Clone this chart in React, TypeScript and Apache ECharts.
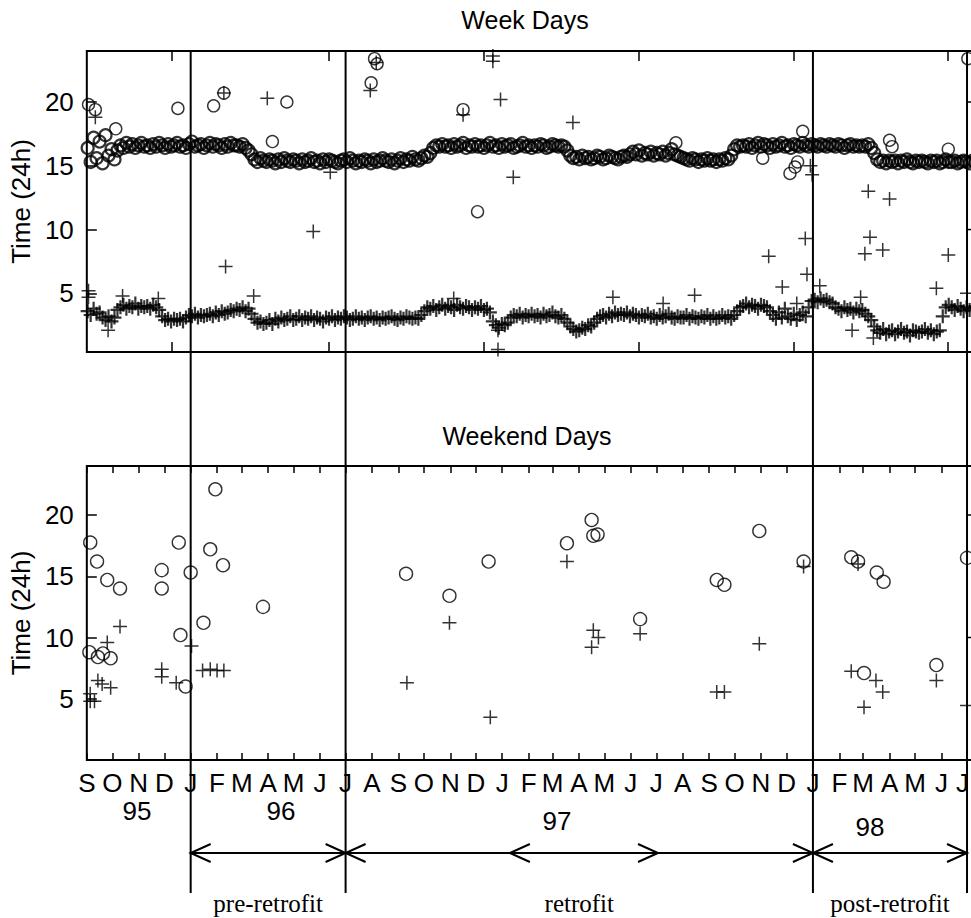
import React, { useEffect, useRef } from "react";
import * as echarts from "echarts";

// ---------- data ----------
// Week days: readings every 3.5 days starting at BAND_START (10 per row)
const BAND_START = "1995-09-02";
const BAND_STEP_DAYS = 3.5;

const weekdayCircleBand = [
  16.4, 15.3, 17.2, 15.6, 16.9, 15.2, 17.4, 15.8, 16.3, 15.5,
  16.2, 16.6, 16.4, 16.8, 16.5, 16.7, 16.4, 16.6, 16.8, 16.5,
  16.6, 16.4, 16.7, 16.5, 16.8, 16.6, 16.4, 16.7, 16.5, 16.6,
  16.8, 16.5, 16.6, 16.4, 16.7, 16.9, 16.5, 16.6, 16.7, 16.4,
  16.6, 16.8, 16.5, 16.7, 16.6, 16.4, 16.7, 16.5, 16.8, 16.6,
  16.6, 16.5, 16.7, 16.4, 16.2, 15.9, 15.5, 15.3, 15.6, 15.4,
  15.3, 15.5, 15.4, 15.2, 15.5, 15.3, 15.6, 15.4, 15.3, 15.5,
  15.4, 15.2, 15.5, 15.3, 15.4, 15.6, 15.3, 15.4, 15.2, 15.5,
  15.3, 15.5, 15.4, 15.3, 15.2, 15.4, 15.5, 15.3, 15.6, 15.4,
  15.2, 15.4, 15.3, 15.5, 15.4, 15.2, 15.5, 15.3, 15.4, 15.6,
  15.4, 15.3, 15.5, 15.2, 15.4, 15.6, 15.3, 15.5, 15.4, 15.7,
  15.5, 15.4, 15.6, 15.8, 15.7, 16.0, 16.4, 16.6, 16.5, 16.7,
  16.5, 16.6, 16.4, 16.7, 16.5, 16.6, 16.8, 16.4, 16.6, 16.5,
  16.7, 16.5, 16.6, 16.4, 16.6, 16.8, 16.5, 16.6, 16.4, 16.7,
  16.5, 16.6, 16.7, 16.4, 16.5, 16.6, 16.8, 16.5, 16.6, 16.4,
  16.6, 16.5, 16.7, 16.6, 16.4, 16.5, 16.7, 16.6, 16.5, 16.6,
  16.5, 16.2, 15.8, 15.6, 15.7, 15.5, 15.8, 15.6, 15.7, 15.5,
  15.6, 15.8, 15.7, 15.5, 15.6, 15.8, 15.7, 15.6, 15.5, 15.7,
  15.8, 15.7, 15.9, 16.1, 15.9, 16.2, 15.8, 16.0, 15.9, 16.1,
  15.8, 16.0, 15.9, 16.1, 15.8, 16.0, 16.3, 15.9, 15.8, 15.7,
  15.6, 15.5, 15.4, 15.6, 15.5, 15.3, 15.5, 15.4, 15.6, 15.4,
  15.5, 15.3, 15.5, 15.4, 15.6, 15.5, 15.8, 16.3, 16.6, 16.5,
  16.6, 16.5, 16.7, 16.4, 16.6, 16.8, 16.5, 16.7, 16.6, 16.4,
  16.7, 16.5, 16.6, 16.8, 16.5, 16.6, 16.4, 16.7, 16.6, 16.5,
  16.8, 16.6, 16.5, 16.7, 16.6, 16.5, 16.7, 16.6, 16.5, 16.7,
  16.6, 16.5, 16.7, 16.6, 16.4, 16.6, 16.7, 16.5, 16.6, 16.5,
  16.6, 16.5, 16.7, 16.4, 16.0, 15.5, 15.3, 15.4, 15.2, 15.4,
  15.3, 15.4, 15.2, 15.4, 15.3, 15.5, 15.3, 15.2, 15.4, 15.3,
  15.4, 15.3, 15.2, 15.4, 15.3, 15.4, 15.2, 15.3, 15.5, 15.3,
  15.3, 15.4, 15.2, 15.3, 15.4, 15.3, 15.2, 15.4, 15.3, 15.4,
];

const weekdayPlusBand = [
  3.6, 3.3, 3.8, 3.4, 3.5, 3.1, 2.9, 3.2, 2.8, 3.1,
  3.7, 3.9, 4.1, 3.8, 4.0, 3.9, 4.2, 3.8, 4.0, 3.9,
  4.0, 3.8, 4.1, 3.9, 3.7, 3.2, 2.9, 3.0, 2.8, 3.0,
  2.9, 3.0, 2.8, 3.1, 3.3, 3.2, 3.4, 3.1, 3.3, 3.2,
  3.3, 3.4, 3.2, 3.5, 3.3, 3.6, 3.4, 3.5, 3.7, 3.6,
  3.8, 3.7, 3.9, 3.6, 3.8, 3.4, 3.0, 2.7, 2.8, 2.6,
  2.7, 2.9, 2.6, 3.0, 2.8, 3.1, 2.9, 3.0, 3.2, 2.9,
  3.0, 3.2, 2.9, 3.1, 3.0, 3.2, 2.9, 3.1, 3.0, 2.8,
  3.1, 3.0, 3.2, 2.9, 3.1, 3.0, 3.2, 3.1, 2.9, 3.0,
  3.2, 3.0, 3.1, 2.9, 3.1, 3.2, 3.0, 3.1, 2.9, 3.1,
  3.0, 3.1, 3.2, 3.0, 2.9, 3.1, 3.0, 3.2, 3.1, 3.0,
  3.1, 3.0, 3.3, 3.6, 3.9, 3.8, 4.0, 3.7, 3.9, 4.1,
  3.8, 4.0, 3.9, 3.7, 4.1, 3.9, 3.8, 4.0, 3.9, 3.7,
  3.9, 3.8, 4.0, 3.7, 3.8, 3.5, 2.8, 2.5, 2.3, 2.6,
  2.5, 2.7, 3.1, 3.3, 3.2, 3.4, 3.1, 3.3, 3.2, 3.4,
  3.2, 3.3, 3.1, 3.4, 3.2, 3.3, 3.5, 3.2, 3.1, 3.3,
  3.0, 2.7, 2.4, 2.2, 2.0, 2.1, 2.3, 2.2, 2.5, 2.4,
  2.7, 3.0, 3.2, 3.3, 3.1, 3.4, 3.2, 3.5, 3.3, 3.4,
  3.3, 3.5, 3.2, 3.4, 3.3, 3.1, 3.3, 3.2, 3.4, 3.1,
  3.2, 3.0, 3.3, 3.1, 3.2, 3.4, 3.1, 3.0, 3.2, 3.1,
  3.1, 3.3, 3.0, 3.2, 3.1, 3.0, 3.2, 3.1, 3.3, 3.0,
  3.2, 3.0, 3.1, 3.3, 3.1, 3.2, 3.0, 3.3, 3.6, 3.9,
  4.0, 4.2, 3.9, 4.1, 4.0, 3.8, 4.1, 4.0, 3.9, 3.6,
  3.3, 3.0, 3.5, 3.1, 3.8, 3.2, 3.0, 3.4, 2.9, 3.3,
  3.5, 3.2, 3.9, 4.4, 4.5, 4.3, 4.6, 4.4, 4.5, 4.3,
  4.2, 3.9, 3.8, 3.6, 3.9, 3.7, 3.8, 3.5, 3.8, 3.6,
  3.7, 3.4, 3.2, 2.9, 2.4, 2.1, 1.9, 2.2, 1.8, 2.0,
  2.1, 1.8, 2.0, 2.2, 1.9, 2.0, 1.7, 2.1, 2.0, 1.9,
  2.0, 2.2, 1.9, 2.1, 1.8, 2.0, 2.1, 3.2, 3.9, 4.1,
  3.9, 3.7, 4.0, 3.8, 3.6, 3.9, 3.7, 3.8, 4.0, 3.8,
];

const weekdayCircleOutliers: [string, number][] = [
  ["1995-09-03", 19.8], ["1995-09-11", 19.4], ["1995-10-05", 17.9], ["1995-12-17", 19.5],
  ["1996-01-28", 19.7], ["1996-02-09", 20.7], ["1996-04-23", 20.0], ["1996-04-06", 16.9],
  ["1996-07-31", 21.5], ["1996-08-04", 23.4], ["1996-08-07", 23.0], ["1996-11-16", 19.4],
  ["1996-12-03", 11.4], ["1997-07-24", 16.8], ["1997-12-05", 14.4], ["1997-12-11", 14.9],
  ["1997-12-14", 15.3], ["1997-12-20", 17.7], ["1997-11-03", 15.6], ["1998-04-01", 17.0],
  ["1998-04-04", 16.5], ["1998-06-09", 16.3], ["1998-07-02", 23.4],
];

const weekdayPlusOutliers: [string, number][] = [
  ["1995-09-11", 18.8], ["1995-09-03", 5.2], ["1995-09-03", 4.7], ["1995-09-26", 2.1],
  ["1995-10-13", 4.8], ["1995-11-24", 4.6], ["1996-02-09", 20.7], ["1996-02-11", 7.1],
  ["1996-03-15", 4.8], ["1996-03-31", 20.3], ["1996-05-24", 9.85], ["1996-06-13", 14.5],
  ["1996-07-30", 20.9], ["1996-08-06", 23.1], ["1996-11-16", 19.0], ["1996-11-05", 4.6],
  ["1996-12-21", 23.6], ["1996-12-21", 23.2], ["1996-12-30", 20.2], ["1997-01-14", 14.1],
  ["1996-12-27", 2.1], ["1996-12-27", 0.6], ["1997-03-25", 18.4], ["1997-05-11", 4.7],
  ["1997-08-15", 4.85], ["1997-07-09", 4.2], ["1997-11-26", 5.5], ["1997-11-10", 7.9],
  ["1997-12-13", 4.2], ["1997-12-23", 9.3], ["1997-12-25", 6.5], ["1997-12-29", 15.0],
  ["1997-12-31", 14.3], ["1998-01-09", 5.6], ["1998-02-26", 4.7], ["1998-02-16", 2.1],
  ["1998-03-07", 13.0], ["1998-04-01", 12.4], ["1998-03-09", 9.4], ["1998-03-03", 8.1],
  ["1998-03-24", 8.4], ["1998-06-09", 8.0], ["1998-05-26", 5.4], ["1998-07-01", 5.0],
  ["1998-03-13", 1.5],
];

const weekendCircles: [string, number][] = [
  ["1995-09-05", 17.75], ["1995-09-13", 16.2], ["1995-09-25", 14.7], ["1995-10-10", 14.0],
  ["1995-09-04", 8.8], ["1995-09-14", 8.4], ["1995-09-20", 8.7], ["1995-09-29", 8.3],
  ["1995-11-28", 15.5], ["1995-11-28", 14.0], ["1995-12-18", 17.75], ["1995-12-20", 10.2],
  ["1996-01-01", 15.3], ["1995-12-26", 6.0], ["1996-01-16", 11.2], ["1996-01-24", 17.2],
  ["1996-01-30", 22.1], ["1996-02-08", 15.9], ["1996-03-26", 12.5], ["1996-09-10", 15.2],
  ["1996-10-31", 13.4], ["1996-12-16", 16.2], ["1997-03-18", 17.7], ["1997-04-16", 19.6],
  ["1997-04-18", 18.3], ["1997-04-23", 18.4], ["1997-06-12", 11.5], ["1997-09-10", 14.7],
  ["1997-09-19", 14.3], ["1997-10-30", 18.7], ["1997-12-21", 16.2], ["1998-02-15", 16.55],
  ["1998-02-23", 16.2], ["1998-03-17", 15.3], ["1998-03-25", 14.55], ["1998-03-02", 7.1],
  ["1998-05-26", 7.75], ["1998-07-01", 16.5],
];

const weekendPlus: [string, number][] = [
  ["1995-10-10", 10.9], ["1995-09-25", 9.6], ["1995-09-14", 6.5], ["1995-09-19", 6.2],
  ["1995-09-29", 5.9], ["1995-09-05", 5.4], ["1995-09-05", 4.8], ["1995-09-10", 4.8],
  ["1995-11-28", 7.4], ["1995-11-28", 6.8], ["1995-12-15", 6.3], ["1996-01-02", 9.3],
  ["1996-01-15", 7.3], ["1996-01-24", 7.4], ["1996-02-01", 7.3], ["1996-02-09", 7.3],
  ["1996-09-11", 6.3], ["1996-10-31", 11.2], ["1996-12-18", 3.5], ["1997-03-18", 16.2],
  ["1997-04-16", 9.2], ["1997-04-18", 10.6], ["1997-04-24", 10.0], ["1997-06-12", 10.3],
  ["1997-09-10", 5.55], ["1997-09-19", 5.55], ["1997-10-30", 9.5], ["1997-12-21", 15.8],
  ["1998-02-23", 16.0], ["1998-02-15", 7.25], ["1998-03-16", 6.5], ["1998-03-24", 5.55],
  ["1998-03-02", 4.3], ["1998-05-26", 6.5], ["1998-07-01", 4.45],
];

// axis / annotation texts
const MONTH_LETTERS = ["J", "F", "M", "A", "M", "J", "J", "A", "S", "O", "N", "D"];
const X_MIN = "1995-09-01";
const X_MAX = "1998-07-28";
const FIRST_MONTH = [1995, 8];
const MONTH_COUNT = 35; // Sep 95 .. Jul 98
const WEEKDAY_TICKS = ["1995-12-10", "1996-06-11", "1996-12-10", "1997-06-10", "1997-12-09", "1998-06-08"];
const Y_TICKS = [5, 10, 15, 20];
const YEAR_LABELS = ["95", "96", "97", "98"];
const PERIOD_BOUNDS = ["1996-01-01", "1996-07-01", "1998-01-01", "1998-07-01"];
const PERIOD_LABELS = ["pre-retrofit", "retrofit", "post-retrofit"];
const MID_ARROWS = ["1997-01-10", "1997-07-03"];

// ---------- helpers ----------
const DAY = 86400000;
const ts = (s: string) => Date.parse(s + "T00:00:00Z");
const SANS = "'Liberation Sans', Arial, Helvetica, sans-serif";
const SERIF = "'Liberation Serif', 'Times New Roman', serif";
const PLUS = "path://M6,0L6,12M0,6L12,6";

export default function App() {
  const ref = useRef<HTMLDivElement>(null);

  useEffect(() => {
    if (!ref.current) return;
    const chart = echarts.init(ref.current, undefined, { renderer: "svg" });

    const bandStart = ts(BAND_START);
    const band = (arr: number[]) => arr.map((v, i) => [bandStart + i * BAND_STEP_DAYS * DAY, v]);
    const pts = (arr: [string, number][]) => arr.map(([d, v]) => [ts(d), v]);

    const monthTicks: number[] = [];
    for (let k = 0; k < MONTH_COUNT; k++) monthTicks.push(Date.UTC(FIRST_MONTH[0], FIRST_MONTH[1] + k, 1));
    const lastMonthTick = monthTicks[monthTicks.length - 1];
    const weekdayTicks = WEEKDAY_TICKS.map(ts);

    const tickStyle = { color: "#000", width: 1.5 };
    const xBase = {
      type: "value",
      min: ts(X_MIN),
      max: ts(X_MAX),
      axisLine: { show: false },
      splitLine: { show: false },
    };

    const yBase = (grid: number, min: number) => ({
      type: "value",
      gridIndex: grid,
      min,
      max: 24,
      axisLine: { show: false },
      splitLine: { show: false },
      axisTick: { show: true, inside: true, length: 10, customValues: Y_TICKS, lineStyle: tickStyle },
      axisLabel: {
        show: true,
        customValues: Y_TICKS,
        fontSize: 26,
        fontFamily: SANS,
        color: "#000",
        margin: 13,
        formatter: (v: number) => String(v),
      },
      name: "Time (24h)",
      nameLocation: "middle",
      nameGap: 48,
      nameTextStyle: { fontSize: 26, fontFamily: SANS, color: "#000" },
    });

    const circleStyle = { color: "rgba(0,0,0,0)", borderColor: "#000", borderWidth: 1.4 };
    const plusStyle = { color: "rgba(0,0,0,0)", borderColor: "#000", borderWidth: 1.5 };
    const bandCircleStyle = { color: "rgba(0,0,0,0)", borderColor: "#000", borderWidth: 2.2 };
    const bandPlusStyle = { color: "rgba(0,0,0,0)", borderColor: "#000", borderWidth: 2.2 };

    const option: any = {
      animation: false,
      backgroundColor: "#fff",
      textStyle: { fontFamily: SANS, color: "#000" },
      title: [
        { text: "Week Days", left: 525, top: 7, textAlign: "center", padding: 0,
          textStyle: { fontSize: 25, fontWeight: "normal", color: "#000", fontFamily: SANS } },
        { text: "Weekend Days", left: 527, top: 423, textAlign: "center", padding: 0,
          textStyle: { fontSize: 25, fontWeight: "normal", color: "#000", fontFamily: SANS } },
      ],
      grid: [
        { left: 86, top: 51, width: 904, height: 301, show: true, borderColor: "#000", borderWidth: 2, backgroundColor: "transparent" },
        { left: 86, top: 466, width: 904, height: 294, show: true, borderColor: "#000", borderWidth: 2, backgroundColor: "transparent" },
      ],
      xAxis: [
        { ...xBase, gridIndex: 0, position: "bottom",
          axisTick: { show: true, inside: true, length: 10, customValues: weekdayTicks, lineStyle: tickStyle },
          axisLabel: { show: false } },
        { ...xBase, gridIndex: 0, position: "top",
          axisTick: { show: true, inside: true, length: 10, customValues: weekdayTicks, lineStyle: tickStyle },
          axisLabel: { show: false } },
        { ...xBase, gridIndex: 1, position: "bottom",
          axisTick: { show: true, inside: true, length: 7, customValues: monthTicks, lineStyle: tickStyle },
          axisLabel: {
            show: true, customValues: monthTicks, fontSize: 26, fontFamily: SANS, color: "#000", margin: 10,
            formatter: (v: number) => {
              const letter = MONTH_LETTERS[new Date(v).getUTCMonth()];
              return v === lastMonthTick ? "{edge|" + letter + "}" : letter;
            },
            rich: { edge: { fontSize: 26, fontFamily: SANS, color: "#000", padding: [0, 9, 0, 0] } },
          } },
        { ...xBase, gridIndex: 1, position: "top",
          axisTick: { show: true, inside: true, length: 7, customValues: monthTicks, lineStyle: tickStyle },
          axisLabel: { show: false } },
      ],
      yAxis: [yBase(0, 0.4), yBase(1, 0)],
      series: [
        { type: "scatter", name: "weekday circle band", xAxisIndex: 0, yAxisIndex: 0, symbol: "circle", symbolSize: 12,
          itemStyle: bandCircleStyle, data: band(weekdayCircleBand) },
        { type: "scatter", name: "weekday circle", xAxisIndex: 0, yAxisIndex: 0, symbol: "circle", symbolSize: 12,
          itemStyle: circleStyle, data: pts(weekdayCircleOutliers) },
        { type: "scatter", name: "weekday plus band", xAxisIndex: 0, yAxisIndex: 0, symbol: PLUS, symbolSize: 14,
          itemStyle: bandPlusStyle, data: band(weekdayPlusBand) },
        { type: "scatter", name: "weekday plus", xAxisIndex: 0, yAxisIndex: 0, symbol: PLUS, symbolSize: 14,
          itemStyle: plusStyle, data: pts(weekdayPlusOutliers) },
        { type: "scatter", name: "weekend circle", xAxisIndex: 2, yAxisIndex: 1, symbol: "circle", symbolSize: 13,
          itemStyle: circleStyle, data: pts(weekendCircles) },
        { type: "scatter", name: "weekend plus", xAxisIndex: 2, yAxisIndex: 1, symbol: PLUS, symbolSize: 14,
          itemStyle: plusStyle, data: pts(weekendPlus) },
      ],
    };
    chart.setOption(option);

    // annotations placed through the axes' scales
    const X = (d: string) => chart.convertToPixel({ xAxisIndex: 2 }, ts(d)) as number;
    const YT = (v: number) => chart.convertToPixel({ yAxisIndex: 0 }, v) as number;
    const YB = (v: number) => chart.convertToPixel({ yAxisIndex: 1 }, v) as number;
    const lineStyle = { stroke: "#000", lineWidth: 2 };
    const topY = YT(24);
    const lineBottom = 893;
    const arrowY = 853;
    const bx = PERIOD_BOUNDS.map(X);

    const g: any[] = [];
    bx.forEach((x) => {
      g.push({ type: "line", shape: { x1: x, y1: topY, x2: x, y2: lineBottom }, style: lineStyle, z: 50 });
    });
    g.push({ type: "line", shape: { x1: bx[0], y1: arrowY, x2: bx[3], y2: arrowY }, style: lineStyle, z: 50 });
    const chev = (xTip: number, dir: number) => ({
      type: "polyline",
      shape: { points: [[xTip - dir * 20, arrowY - 9], [xTip, arrowY], [xTip - dir * 20, arrowY + 9]] },
      style: { stroke: "#000", lineWidth: 2, fill: "none" },
      z: 50,
    });
    g.push(chev(bx[0], -1));
    g.push(chev(bx[1], 1), chev(bx[1], -1));
    g.push(chev(bx[2], 1), chev(bx[2], -1));
    g.push(chev(bx[3], 1));
    g.push(chev(X(MID_ARROWS[0]), -1), chev(X(MID_ARROWS[1]), 1));

    PERIOD_LABELS.forEach((t, i) => {
      g.push({
        type: "text", x: (bx[i] + bx[i + 1]) / 2, y: 903, z: 50,
        style: { text: t, fill: "#000", fontSize: 25, fontFamily: SERIF, align: "center", verticalAlign: "middle" },
      });
    });

    const yearPos = [[137, 811], [281, 811], [557, 821], [870, 827]];
    YEAR_LABELS.forEach((t, i) => {
      g.push({
        type: "text", x: yearPos[i][0], y: yearPos[i][1], z: 50,
        style: { text: t, fill: "#000", fontSize: 26, fontFamily: SANS, align: "center", verticalAlign: "middle" },
      });
    });

    // small outward ticks on the Jul-98 line
    [10, 20].forEach((v) => {
      g.push({ type: "line", shape: { x1: bx[3], y1: YT(v), x2: bx[3] + 9, y2: YT(v) }, style: { stroke: "#000", lineWidth: 1.5 }, z: 50 });
      g.push({ type: "line", shape: { x1: bx[3], y1: YB(v), x2: bx[3] + 9, y2: YB(v) }, style: { stroke: "#000", lineWidth: 1.5 }, z: 50 });
    });

    chart.setOption({ graphic: g });

    return () => chart.dispose();
  }, []);

  return (
    <div style={{ position: "fixed", left: 0, top: 0, width: 971, height: 918, overflow: "hidden", background: "#fff" }}>
      <div ref={ref} style={{ width: 1000, height: 918 }} />
    </div>
  );
}
